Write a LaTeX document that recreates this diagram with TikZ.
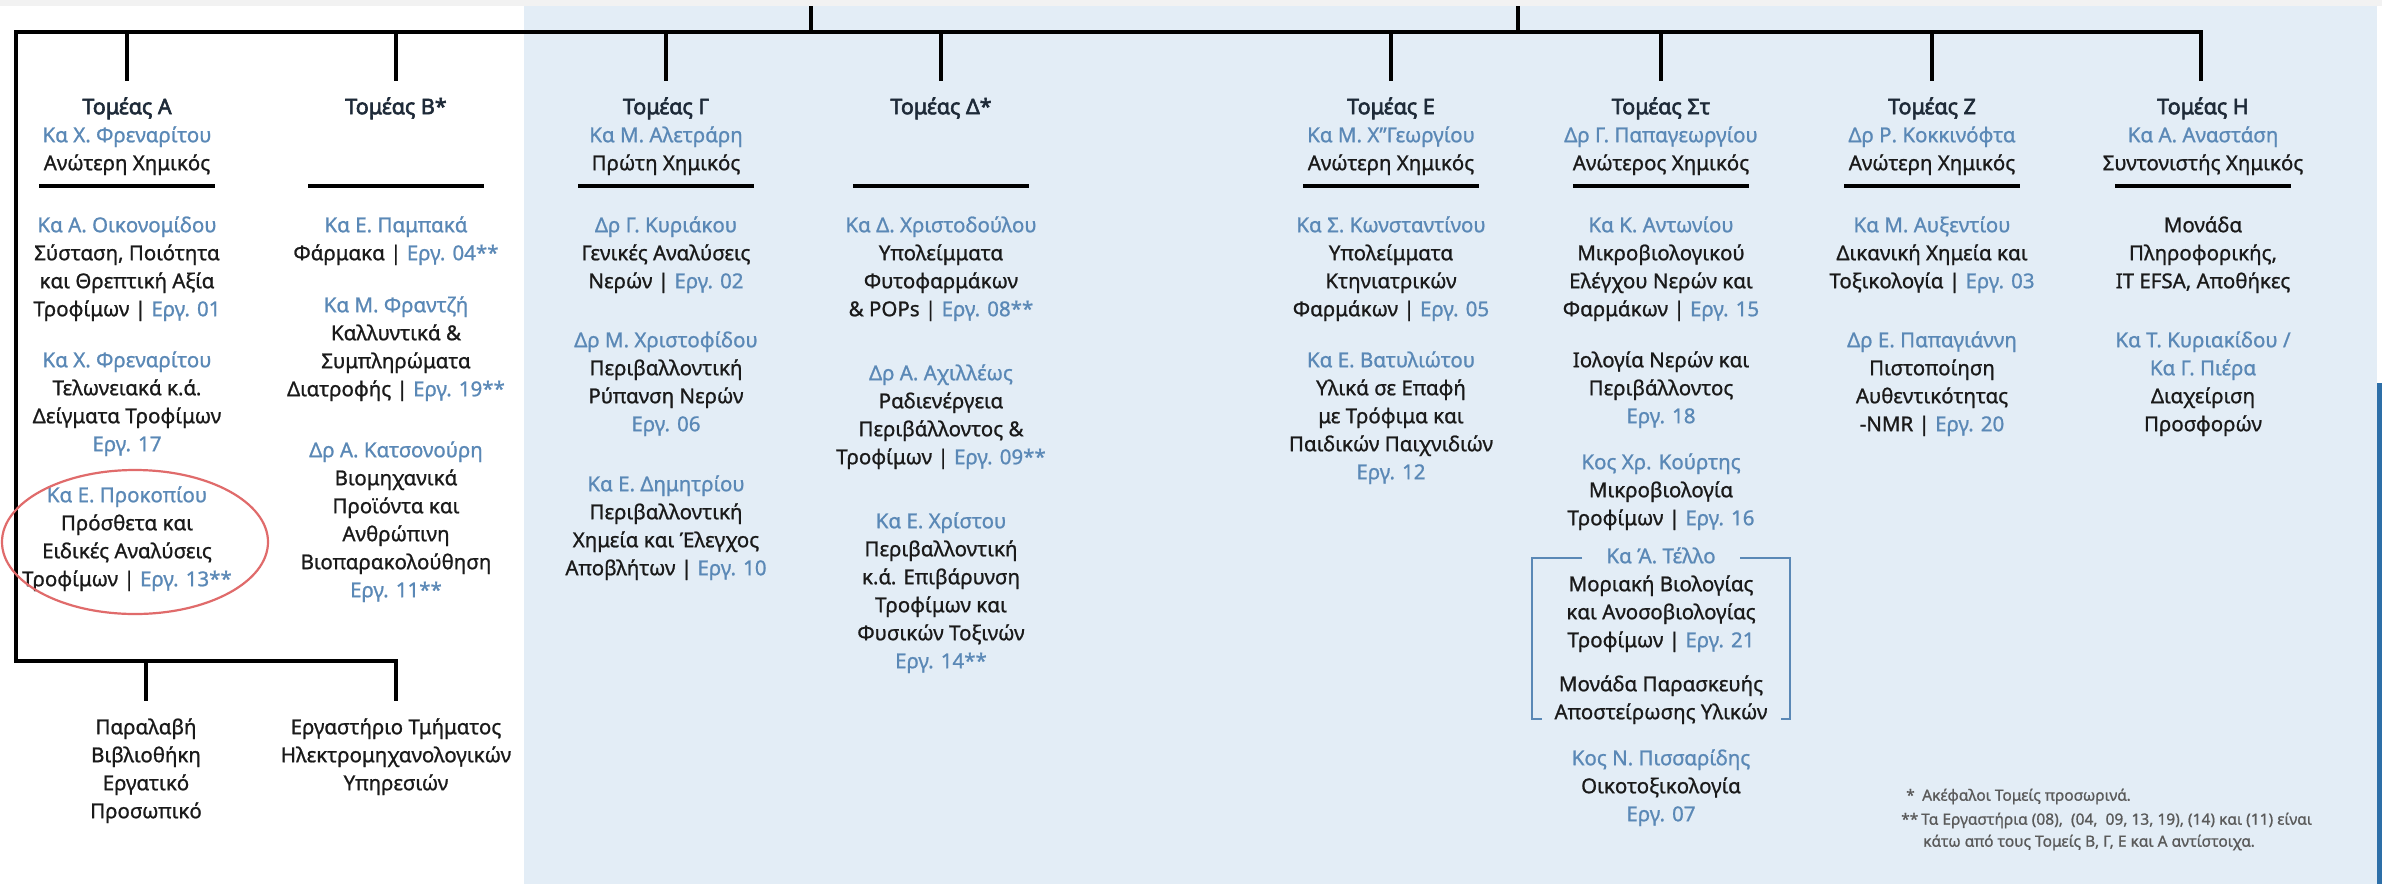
\documentclass[tikz,border=0pt]{standalone}
\usepackage{fontspec}
\setmainfont{Noto Sans}[FakeBold=1.0]
\newfontfamily\hdfont{Noto Sans}[FakeBold=2.6]
\definecolor{ink}{HTML}{1A1A1A}
\definecolor{head}{HTML}{1E2A38}
\definecolor{nb}{HTML}{5A88B6}
\definecolor{bgblue}{HTML}{E3EDF6}
\definecolor{topgray}{HTML}{F2F2F2}
\definecolor{redc}{HTML}{E06B6B}
\definecolor{fng}{HTML}{5A5A5A}
\definecolor{edgeblue}{HTML}{2D6FA8}
\newcommand{\tp}{\rule{0pt}{19pt}}
\newcommand{\nm}[1]{\textcolor{nb}{#1}}
\newcommand{\hd}[1]{{\hdfont\fontsize{21.5}{28}\selectfont\textcolor{head}{#1}}}
\begin{document}
\begin{tikzpicture}[x=1pt,y=-1pt,
  blk/.style={font=\fontsize{20.5}{28}\selectfont, align=center, inner sep=0pt, anchor=north, text=ink},
  fn/.style={font=\fontsize{15.5}{20}\selectfont, inner sep=0pt, anchor=mid west, text=fng},
  bus/.style={line width=3.5pt, black},
  sepl/.style={line width=4pt, black},
  brk/.style={line width=2.5pt, nb},
  ring/.style={line width=2.2pt, redc}]
\useasboundingbox (0,0) rectangle (2382,884);
% backgrounds
\fill[white] (0,0) rectangle (2382,884);
\fill[bgblue] (524,6) rectangle (2377,884);
\fill[topgray] (0,0) rectangle (2382,6);
\fill[edgeblue] (2377,383) rectangle (2382,884);

% headings
\node[blk] (hA) at (127,95) {\tp\hd{Τομέας Α}\\\nm{Κα Χ. Φρεναρίτου}\\Ανώτερη Χημικός};
\node[blk] (hB) at (396,95) {\tp\hd{Τομέας Β*}};
\node[blk] (hG) at (666,95) {\tp\hd{Τομέας Γ}\\\nm{Κα Μ. Αλετράρη}\\Πρώτη Χημικός};
\node[blk] (hD) at (941,95) {\tp\hd{Τομέας Δ*}};
\node[blk] (hE) at (1391,95) {\tp\hd{Τομέας Ε}\\\nm{Κα Μ. Χ"Γεωργίου}\\Ανώτερη Χημικός};
\node[blk] (hS) at (1661,95) {\tp\hd{Τομέας Στ}\\\nm{Δρ Γ. Παπαγεωργίου}\\Ανώτερος Χημικός};
\node[blk] (hZ) at (1932,95) {\tp\hd{Τομέας Ζ}\\\nm{Δρ Ρ. Κοκκινόφτα}\\Ανώτερη Χημικός};
\node[blk] (hH) at (2203,95) {\tp\hd{Τομέας Η}\\\nm{Κα Α. Αναστάση}\\Συντονιστής Χημικός};

% column A
\node[blk] (a1) at (127,213) {\tp\nm{Κα Α. Οικονομίδου}\\Σύσταση, Ποιότητα\\και Θρεπτική Αξία\\Τροφίμων | \nm{Εργ. 01}};
\node[blk] (a2) at (127,348) {\tp\nm{Κα Χ. Φρεναρίτου}\\Τελωνειακά κ.ά.\\Δείγματα Τροφίμων\\\nm{Εργ. 17}};
\node[blk] (a3) at (127,483) {\tp\nm{Κα Ε. Προκοπίου}\\Πρόσθετα και\\Ειδικές Αναλύσεις\\Τροφίμων | \nm{Εργ. 13**}};
% column B
\node[blk] (b1) at (396,213) {\tp\nm{Κα Ε. Παμπακά}\\Φάρμακα | \nm{Εργ. 04**}};
\node[blk] (b2) at (396,293) {\tp\nm{Κα Μ. Φραντζή}\\Καλλυντικά \&\\Συμπληρώματα\\Διατροφής | \nm{Εργ. 19**}};
\node[blk] (b3) at (396,438) {\tp\nm{Δρ Α. Κατσονούρη}\\Βιομηχανικά\\Προϊόντα και\\Ανθρώπινη\\Βιοπαρακολούθηση\\\nm{Εργ. 11**}};
% bottom
\node[blk] (p1) at (146,715) {\tp Παραλαβή\\Βιβλιοθήκη\\Εργατικό\\Προσωπικό};
\node[blk] (p2) at (396,715) {\tp Εργαστήριο Τμήματος\\Ηλεκτρομηχανολογικών\\Υπηρεσιών};
% column G
\node[blk] (g1) at (666,213) {\tp\nm{Δρ Γ. Κυριάκου}\\Γενικές Αναλύσεις\\Νερών | \nm{Εργ. 02}};
\node[blk] (g2) at (666,328) {\tp\nm{Δρ Μ. Χριστοφίδου}\\Περιβαλλοντική\\Ρύπανση Νερών\\\nm{Εργ. 06}};
\node[blk] (g3) at (666,472) {\tp\nm{Κα Ε. Δημητρίου}\\Περιβαλλοντική\\Χημεία και Έλεγχος\\Αποβλήτων | \nm{Εργ. 10}};
% column D
\node[blk] (d1) at (941,213) {\tp\nm{Κα Δ. Χριστοδούλου}\\Υπολείμματα\\Φυτοφαρμάκων\\\& POPs | \nm{Εργ. 08**}};
\node[blk] (d2) at (941,361) {\tp\nm{Δρ Α. Αχιλλέως}\\Ραδιενέργεια\\Περιβάλλοντος \&\\Τροφίμων | \nm{Εργ. 09**}};
\node[blk] (d3) at (941,509) {\tp\nm{Κα Ε. Χρίστου}\\Περιβαλλοντική\\κ.ά. Επιβάρυνση\\Τροφίμων και\\Φυσικών Τοξινών\\\nm{Εργ. 14**}};
% column E
\node[blk] (e1) at (1391,213) {\tp\nm{Κα Σ. Κωνσταντίνου}\\Υπολείμματα\\Κτηνιατρικών\\Φαρμάκων | \nm{Εργ. 05}};
\node[blk] (e2) at (1391,348) {\tp\nm{Κα Ε. Βατυλιώτου}\\Υλικά σε Επαφή\\με Τρόφιμα και\\Παιδικών Παιχνιδιών\\\nm{Εργ. 12}};
% column St
\node[blk] (s1) at (1661,213) {\tp\nm{Κα Κ. Αντωνίου}\\Μικροβιολογικού\\Ελέγχου Νερών και\\Φαρμάκων | \nm{Εργ. 15}};
\node[blk] (s2) at (1661,348) {\tp Ιολογία Νερών και\\Περιβάλλοντος\\\nm{Εργ. 18}};
\node[blk] (s3) at (1661,450) {\tp\nm{Κος Χρ. Κούρτης}\\Μικροβιολογία\\Τροφίμων | \nm{Εργ. 16}};
\node[blk] (s4) at (1661,544) {\tp\nm{Κα Ά. Τέλλο}\\Μοριακή Βιολογίας\\και Ανοσοβιολογίας\\Τροφίμων | \nm{Εργ. 21}};
\node[blk] (s5) at (1661,672) {\tp Μονάδα Παρασκευής\\Αποστείρωσης Υλικών};
\node[blk] (s6) at (1661,746) {\tp\nm{Κος Ν. Πισσαρίδης}\\Οικοτοξικολογία\\\nm{Εργ. 07}};
% column Z
\node[blk] (z1) at (1932,213) {\tp\nm{Κα Μ. Αυξεντίου}\\Δικανική Χημεία και\\Τοξικολογία | \nm{Εργ. 03}};
\node[blk] (z2) at (1932,328) {\tp\nm{Δρ Ε. Παπαγιάννη}\\Πιστοποίηση\\Αυθεντικότητας\\-NMR | \nm{Εργ. 20}};
% column H
\node[blk] (h1) at (2203,213) {\tp Μονάδα\\Πληροφορικής,\\IT EFSA, Αποθήκες};
\node[blk] (h2) at (2203,328) {\tp\nm{Κα Τ. Κυριακίδου /}\\\nm{Κα Γ. Πιέρα}\\Διαχείριση\\Προσφορών};

% footnotes
\node[fn] (f1) at (1906,798) {*};
\node[fn] (f1t) at (1922,798) {Ακέφαλοι Τομείς προσωρινά.};
\node[fn] (f2) at (1901,822) {**};
\node[fn] (f2t) at (1921,822) {Τα Εργαστήρια (08),\ \ (04,\ \ 09, 13, 19), (14) και (11) είναι};
\node[fn] (f3t) at (1923,844) {κάτω από τους Τομείς Β, Γ, Ε και Α αντίστοιχα.};

% tree connectors
\coordinate (tl) at (16,32);
\coordinate (tr) at (2201,32);
\coordinate (bl) at (16,661);
\coordinate (br) at (396,661);
\coordinate (up1) at (811,6);
\coordinate (up2) at (1518,6);
\draw[bus] (up1) -- (up1 |- tl);
\draw[bus] (up2) -- (up2 |- tl);
\draw[bus,line join=miter] ([yshift=14pt]hH.north -| tr) -- (tr) -- (tl) -- (bl) -- (br) -- ([yshift=14pt]p2.north);
\foreach \n in {hA,hB,hG,hD,hE,hS,hZ}
  \draw[bus] (\n.north |- tl) -- ([yshift=14pt]\n.north);
\draw[bus] (p1.north |- bl) -- ([yshift=14pt]p1.north);

% separators
\foreach \cx in {127,396,666,941,1391,1661,1932,2203}
  \draw[sepl] (\cx-88,186) -- (\cx+88,186);

% red ring
\draw[ring] (135,542) ellipse [x radius=133, y radius=72];

% bracket around Tello unit
\coordinate (k1) at (1582,558);
\coordinate (k2) at (1532,719);
\coordinate (k3) at (1740,558);
\coordinate (k4) at (1790,719);
\draw[brk] (k1) -- (k1 -| k2) -- (k2) -- ++(10,0);
\draw[brk] (k3) -- (k3 -| k4) -- (k4) -- ++(-9,0);
\end{tikzpicture}
\end{document}
